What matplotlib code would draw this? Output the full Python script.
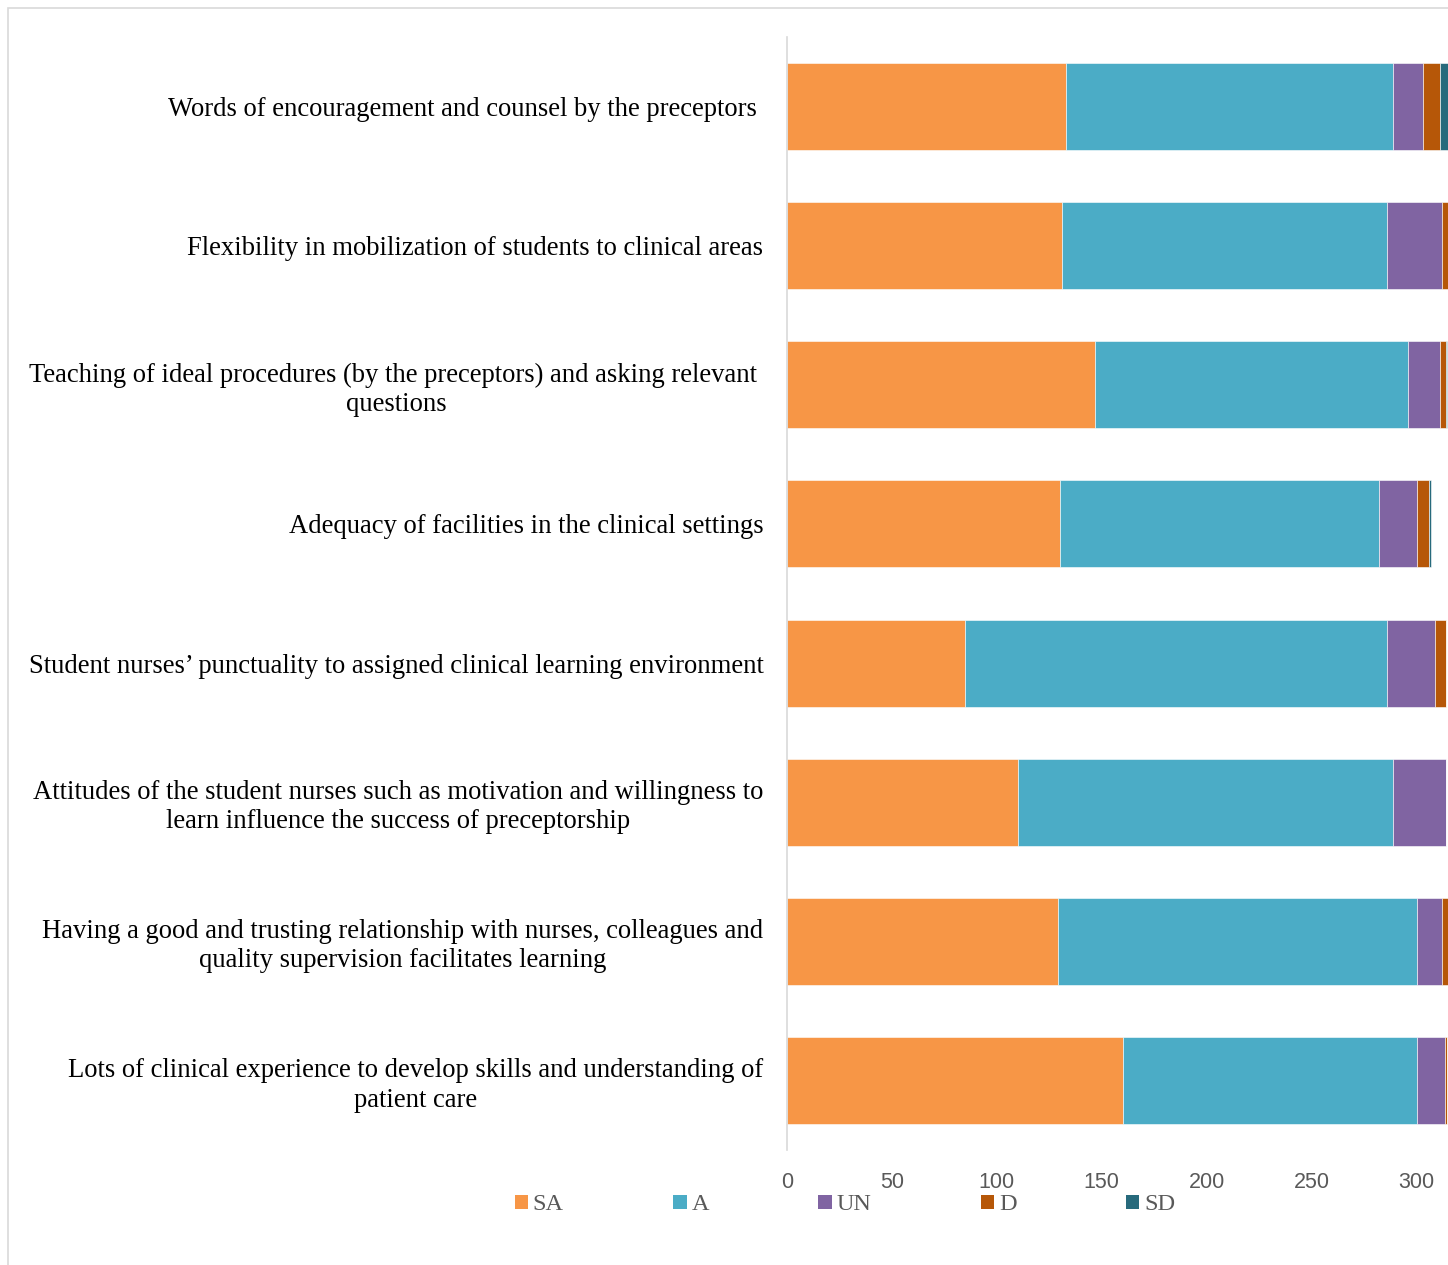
import matplotlib
matplotlib.use("Agg")
import matplotlib.pyplot as plt
from matplotlib.patches import Patch, Rectangle
import numpy as np

categories = [
    "Words of encouragement and counsel by the preceptors ",
    "Flexibility in mobilization of students to clinical areas",
    "Teaching of ideal procedures (by the preceptors) and asking relevant \nquestions",
    "Adequacy of facilities in the clinical settings",
    "Student nurses\u2019 punctuality to assigned clinical learning environment",
    "Attitudes of the student nurses such as motivation and willingness to\nlearn influence the success of preceptorship",
    "Having a good and trusting relationship with nurses, colleagues and\nquality supervision facilitates learning",
    "Lots of clinical experience to develop skills and understanding of\npatient care",
]
series_names = ["SA", "A", "UN", "D", "SD"]
SA = [133, 131, 147, 130, 85, 110, 129, 160]
A = [156, 155, 149, 152, 201, 179, 171, 140]
UN = [14, 26, 15, 18, 23, 25, 12, 13.5]
D = [8, 3, 3, 6, 5, 0, 3, 1]
SD = [4, 0, 0.7, 1, 0, 0, 0, 0]
xticks = [0, 50, 100, 150, 200, 250, 300]

colors = ["#F79646", "#4BACC6", "#8064A2", "#B65708", "#276A7C"]

W, H = 1448, 1265
fig = plt.figure(figsize=(W / 100, H / 100), dpi=100)
ax = fig.add_axes([787 / W, 1 - 1150 / H, (W - 787) / W, (1150 - 37) / H])

y = np.arange(len(categories))
left = np.zeros(len(categories))
for name, vals, c in zip(series_names, [SA, A, UN, D, SD], colors):
    vals = np.array(vals, dtype=float)
    ax.barh(y, vals, left=left, height=0.625, color=c, edgecolor="white",
            linewidth=0.4, label=name)
    left += vals

ax.set_ylim(len(categories) - 0.5, -0.5)
ax.set_xlim(0, 315)
ax.set_yticks(y)
ax.set_yticklabels(categories, family="Liberation Serif", fontsize=19.2,
                   color="black", ha="right", multialignment="center",
                   linespacing=1.22)
ax.tick_params(axis="y", length=0, pad=17)
ax.set_xticks(xticks)
ax.set_xticklabels([str(t) for t in xticks], family="Liberation Sans",
                   fontsize=15.5, color="#595959")
ax.tick_params(axis="x", length=0, pad=16)
for s in ["top", "right", "bottom"]:
    ax.spines[s].set_visible(False)
ax.spines["left"].set_color("#D9D9D9")
ax.spines["left"].set_linewidth(1.2)
ax.set_facecolor("none")

handles = [Patch(facecolor=c, edgecolor="none") for c in colors]
fig.legend(handles, series_names, loc="center", ncol=5,
           bbox_to_anchor=(845 / W, 1 - 1205 / H), frameon=False,
           prop={"family": "Liberation Serif", "size": 17.5},
           labelcolor="#595959", handlelength=0.55, handleheight=0.55,
           handletextpad=0.2, columnspacing=4.5)

# outer frame
fig.add_artist(Rectangle((8 / W, -0.01), 1.2, 1 - 8 / H + 0.01,
                         transform=fig.transFigure, fill=False,
                         edgecolor="#D9D9D9", linewidth=1.2))

fig.savefig("out.png", dpi=100)
